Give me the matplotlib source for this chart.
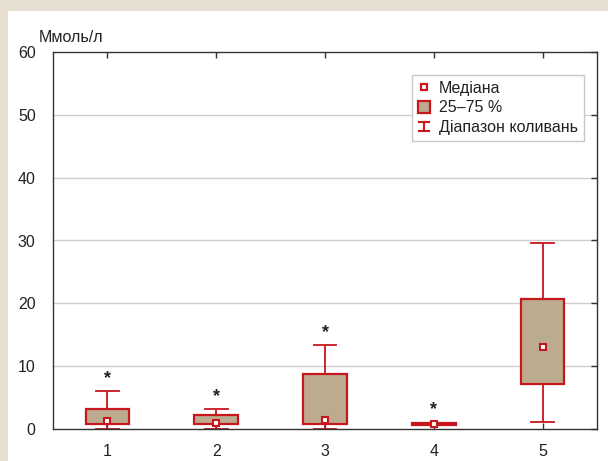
import matplotlib
matplotlib.use("Agg")
import matplotlib.pyplot as plt
from matplotlib.patches import Rectangle, Patch
from matplotlib.lines import Line2D
from matplotlib.legend_handler import HandlerBase

plt.rcParams['font.family'] = ['Liberation Sans', 'DejaVu Sans']

# Glucose levels per group, mmol/l
groups = [1, 2, 3, 4, 5]
q1 = [0.75, 0.75, 0.75, 0.6, 7.2]
q3 = [3.2, 2.2, 8.7, 1.0, 20.7]
medians = [1.2, 0.9, 1.4, 0.8, 13.1]
range_lo = [0.0, 0.0, 0.0, 0.6, 1.1]
range_hi = [6.05, 3.2, 13.3, 1.0, 29.6]
significant = [True, True, True, True, False]

y_ticks = [0, 10, 20, 30, 40, 50, 60]
unit_label = "Ммоль/л"
legend_labels = ["Медіана", "25–75 %", "Діапазон коливань"]

RED = "#c8161d"
FILL = "#bcab8e"
BG = "#e7ded2"
FS = 11.5

fig = plt.figure(figsize=(6.08, 4.61), dpi=100, facecolor=BG)
W, H = 608, 461
fig.patches.append(Rectangle((8 / W, 0), 1, 1 - 11 / H, transform=fig.transFigure,
                             facecolor="white", edgecolor="none", zorder=-10))

ax = fig.add_axes([53 / W, 1 - 429 / H, (597 - 53) / W, (429 - 52) / H])
ax.set_xlim(0.5, 5.5)
ax.set_ylim(0, 60)

box_w = 0.4
cap_w = 0.21
for x, a, b, m, lo, hi, sig in zip(groups, q1, q3, medians, range_lo, range_hi, significant):
    ax.plot([x, x], [b, hi], color=RED, lw=1.3, zorder=3, solid_capstyle='butt')
    ax.plot([x, x], [lo, a], color=RED, lw=1.3, zorder=3, solid_capstyle='butt')
    ax.plot([x - cap_w / 2, x + cap_w / 2], [hi, hi], color=RED, lw=1.3, zorder=3,
            clip_on=False)
    ax.plot([x - cap_w / 2, x + cap_w / 2], [lo, lo], color=RED, lw=1.3, zorder=1,
            clip_on=False)
    ax.add_patch(Rectangle((x - box_w / 2, a), box_w, b - a, facecolor=FILL,
                           edgecolor=RED, lw=1.6, zorder=4))
    ax.plot([x], [m], marker='s', ms=5, mfc='white', mec=RED, mew=1.5, zorder=5,
            linestyle='none')
    if sig:
        ax.annotate("*", (x, hi), xytext=(0, 3), textcoords='offset points',
                    ha='center', va='bottom', fontsize=13, fontweight='bold',
                    color='#222222')

for v in y_ticks[1:-1]:
    ax.axhline(v, color='#cfcfcf', lw=1.0, zorder=0.5)

ax.set_yticks(y_ticks)
ax.set_xticks(groups)
ax.tick_params(axis='y', which='both', left=False, right=True, direction='in',
               length=4, width=1, color='#333333', labelsize=FS, pad=12.5,
               labelcolor='#222222')
ax.tick_params(axis='x', which='both', bottom=True, top=True, direction='in',
               length=4, width=1, color='#333333', labelsize=FS, pad=10.5,
               labelcolor='#222222')
for s in ax.spines.values():
    s.set_color('#333333')
    s.set_linewidth(1.0)
    s.set_zorder(2)

fig.text(39 / W, 1 - 42 / H, unit_label, fontsize=FS, color='#222222',
         ha='left', va='baseline')


class RangeHandler(HandlerBase):
    def create_artists(self, legend, orig_handle, xdescent, ydescent, width, height,
                       fontsize, trans):
        cx = width / 2 - xdescent
        y0 = -ydescent + 0.5
        y1 = height - ydescent - 0.5
        cw = 3.5
        lines = [
            Line2D([cx, cx], [y0, y1], color=RED, lw=1.5),
            Line2D([cx - cw, cx + cw], [y0, y0], color=RED, lw=1.5),
            Line2D([cx - cw, cx + cw], [y1, y1], color=RED, lw=1.5),
        ]
        for ln in lines:
            ln.set_transform(trans)
        return lines


class MarkerHandler(HandlerBase):
    def __init__(self, size, lw, face):
        super().__init__()
        self.size, self.lw, self.face = size, lw, face

    def create_artists(self, legend, orig_handle, xdescent, ydescent, width, height,
                       fontsize, trans):
        cx = width / 2 - xdescent
        cy = height / 2 - ydescent
        s = self.size
        r = Rectangle((cx - s / 2, cy - s / 2), s, s, facecolor=self.face,
                      edgecolor=RED, lw=self.lw)
        r.set_transform(trans)
        return [r]


h_med = Line2D([], [])
h_box = Patch()
h_rng = Line2D([0], [0])
leg = ax.legend([h_med, h_box, h_rng], legend_labels,
                handler_map={h_med: MarkerHandler(5, 1.6, 'white'),
                             h_box: MarkerHandler(8.5, 1.6, FILL),
                             h_rng: RangeHandler()},
                loc='upper left', bbox_to_anchor=((412 - 53) / (597 - 53), 1 - (75 - 52) / 377),
                fontsize=FS, frameon=True, fancybox=False, framealpha=1,
                edgecolor='#c8c8c8', handlelength=0.8, handletextpad=0.55,
                labelspacing=0.3, borderpad=0.35, borderaxespad=0)
leg.get_frame().set_linewidth(1.0)
for t in leg.get_texts():
    t.set_color('#222222')

fig.savefig("out.png", dpi=100, facecolor=BG)
